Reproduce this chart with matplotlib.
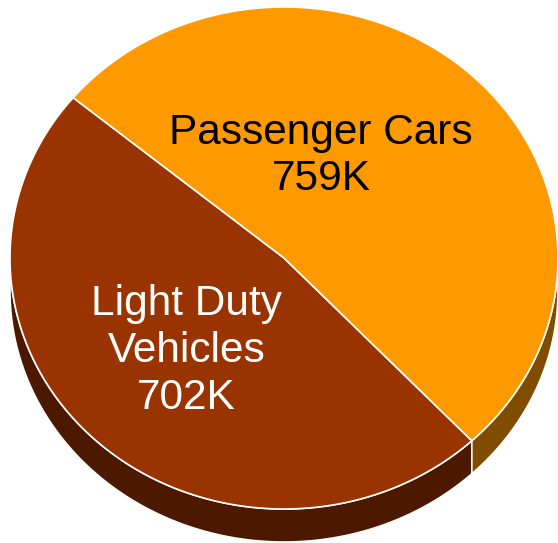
import numpy as np
import matplotlib.pyplot as plt
from matplotlib.patches import Polygon

plt.rcParams['font.family'] = ['Liberation Sans', 'DejaVu Sans']

# vehicle counts
labels = ['Light Duty\nVehicles', 'Passenger Cars']
values = [702, 759]
value_text = ['702K', '759K']
top_colors = ['#993300', '#FF9900']
side_colors = ['#4C1900', '#7F4C00']
text_colors = ['white', 'black']

# ellipse geometry in pixel units
cx, cy = 284, 258
rx, ry = 274, 251
depth = 33
start = 140.3

fig = plt.figure(figsize=(5.58, 5.43), dpi=100)
ax = fig.add_axes([0, 0, 1, 1])
ax.set_xlim(0, 558)
ax.set_ylim(543, 0)
ax.axis('off')

def arc(t1, t2, dy=0, n=200):
    t = np.radians(np.linspace(t1, t2, n))
    return np.column_stack([cx + rx * np.cos(t), cy - ry * np.sin(t) + dy])

total = sum(values)
angles = [start]
for v in values:
    angles.append(angles[-1] + 360.0 * v / total)

# side walls (only front half, 180..360 deg, is visible)
for i in range(len(values)):
    a1, a2 = angles[i], angles[i + 1]
    for off in (0, 360, -360):
        lo = max(a1 + off, 180)
        hi = min(a2 + off, 360)
        if hi > lo:
            top = arc(lo, hi)
            bot = arc(hi, lo, dy=depth)
            ax.add_patch(Polygon(np.vstack([top, bot]), closed=True,
                                 facecolor=side_colors[i], edgecolor='white',
                                 linewidth=1.2, zorder=1))

# top face wedges
for i in range(len(values)):
    pts = np.vstack([[cx, cy], arc(angles[i], angles[i + 1]), [cx, cy]])
    ax.add_patch(Polygon(pts, closed=True, facecolor=top_colors[i],
                         edgecolor='white', linewidth=1.2, zorder=2))

# slice labels
ax.text(186.5, 351, labels[0] + '\n' + value_text[0], ha='center', va='center',
        fontsize=30.5, color=text_colors[0], linespacing=1.22, zorder=3)
ax.text(321, 156, labels[1] + '\n' + value_text[1], ha='center', va='center',
        fontsize=30.5, color=text_colors[1], linespacing=1.2, zorder=3)

fig.savefig('out.png', dpi=100)
